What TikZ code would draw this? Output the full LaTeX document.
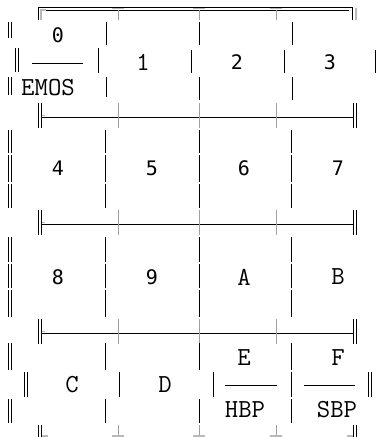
\documentclass[tikz,border=0pt]{standalone}
\usepackage{fontspec}
\newfontfamily\digitfont{DejaVu Sans Mono}

% a double bar: x, top, bottom
\newcommand{\dbar}[3]{\draw (#1,#2) -- (#1,#3); \draw ({#1+3},#2) -- ({#1+3},#3);}

\begin{document}
\begin{tikzpicture}[x=1pt, y=-1pt, line width=0.9pt,
    digit/.style={font=\digitfont\fontsize{20}{20}\selectfont, inner sep=0pt},
    letter/.style={font=\ttfamily\fontsize{26}{26}\selectfont, inner sep=0pt},
    junc/.style={gray!55, line width=1.4pt}]
\useasboundingbox (0,0) rectangle (377,437);

% top frame
\draw (38,20) -- (38,7) -- (352,7) -- (352,20);
\draw (44,10) -- (349,10);
\draw[junc] (41,20) -- (41,10) -- (46,10);
\draw[junc] (356,8) -- (356,20);
\foreach \x in {118,199,276} {
    \draw[junc] (\x-6,8.5) -- (\x+6,8.5);
    \draw[gray!75] (\x,10) -- (\x,20);
}

% row lines
\foreach \y in {117,224,333} {
    \draw (41,\y) -- (353,\y);
    \dbar{38.5}{\y-14}{\y+11}
    \dbar{353.5}{\y-14}{\y+11}
    \draw[junc] (42,\y-1.5) -- (45,\y-1.5);
    \foreach \x in {118,199,276}
        \draw[gray!75] (\x,\y-14) -- (\x,\y+11);
}

% bottom frame
\dbar{38.5}{425}{437}
\draw[junc] (42,436) -- (48,436);
\foreach \x in {118,199,276} {
    \draw[gray!75] (\x,425) -- (\x,436);
    \draw[junc] (\x-6,436) -- (\x+6,436);
}
\dbar{353.5}{425}{437}
\draw[junc] (347,436) -- (353,436);

% single bars
\foreach \x/\a/\b in {106/22/45, 98/48/73, 106/77/97,
        199/22/45, 191/50/73, 199/77/100,
        292/22/45, 284/50/73, 292/77/100, 375/50/73,
        119/372/397, 213/372/397, 105/343/370, 105/399/423,
        199/343/370, 199/399/423}
    \draw (\x,\a) -- (\x,\b);
\foreach \x in {105,199,291}
    \foreach \a/\b in {130/153, 155/182, 184/208, 237/262, 264/288, 290/317}
        \draw (\x,\a) -- (\x,\b);
\foreach \a/\b in {343/370, 372/397, 399/423}
    \draw (291,\a) -- (291,\b);

% double bars
\foreach \x/\a/\b in {8/22/38, 15/48/72, 8/77/95,
        8/130/153, 8/155/182, 8/184/208,
        8/237/262, 8/264/288, 8/290/317,
        8/343/370, 24/372/397, 8/399/423, 368/372/397} {
    \dbar{\x}{\a}{\b}
}

% cells
\node[digit] (c0) at (58,35) {0};
\draw (32,63) -- (83,63);
\node[letter] (emos) at (48,88) {EMOS};
\node[letter] (c1) at (143,62) {1};
\node[digit] (c2) at (237,62) {2};
\node[digit] (c3) at (330,62) {3};
\node[digit] (c4) at (58,168) {4};
\node[digit] (c5) at (152,168) {5};
\node[digit] (c6) at (244,168) {6};
\node[digit] (c7) at (338,168) {7};
\node[digit] (c8) at (58,277) {8};
\node[digit] (c9) at (152,277) {9};
\node[letter] (ca) at (244,277) {A};
\node[letter] (cb) at (338,277) {B};
\node[letter] (cc) at (72,385) {C};
\node[letter] (cd) at (165,385) {D};
\node[letter] (ce) at (244,358) {E};
\draw (225,385) -- (277,385);
\node[letter] (hbp) at (245,410) {HBP};
\node[letter] (cf) at (338,358) {F};
\draw (304,385) -- (355,385);
\node[letter] (sbp) at (337,410) {SBP};
\end{tikzpicture}
\end{document}
